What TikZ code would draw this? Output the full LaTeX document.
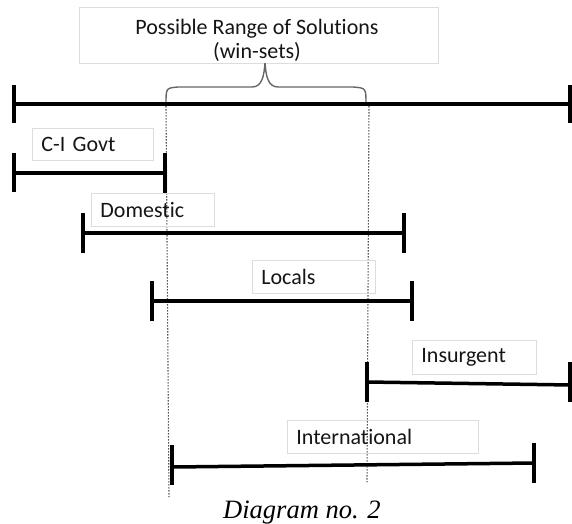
\documentclass[tikz,border=0pt]{standalone}
\usepackage{fontspec}
\setmainfont{Carlito}[Ligatures=NoCommon]
\newfontfamily\capfont{Liberation Serif}
\definecolor{boxgray}{HTML}{DDDDDD}
\definecolor{bracegray}{HTML}{666666}
\definecolor{dotgray}{HTML}{555555}
\definecolor{txt}{HTML}{151515}
\tikzset{
  bar/.style={line width=3.5pt, black},
  tick/.style={line width=3.5pt, black},
  lbl/.style={draw=boxgray, line width=0.8pt, rectangle, anchor=north west,
    inner xsep=9pt, inner ysep=0pt, align=left, text=txt,
    font=\fontsize{22}{26}\selectfont},
  guide/.style={dotgray, line width=1.1pt, dash pattern=on 1.5pt off 1.5pt},
  bracestyle/.style={bracegray, line width=1.4pt}
}
\begin{document}
\begin{tikzpicture}[x=1pt,y=-1pt]
\useasboundingbox (0,0) rectangle (572,523);
% title
\node[draw=boxgray, line width=0.8pt, anchor=north west, minimum width=359pt, minimum height=56pt,
  inner sep=0pt] (title) at (79,7) {};
\node[inner sep=0pt, align=center, text=txt, font=\fontsize{22}{24}\selectfont] (titletext) at (257,40)
  {Possible Range of Solutions\\(win-sets)};
% brace
\coordinate (bl) at (166,104);
\coordinate (br) at (366,104);
\coordinate (tip) at (265,63);
\draw[bracestyle] (bl) .. controls (166,88) .. (178,87) -- (252,87)
  .. controls (262,87) and (264,76) .. (tip)
  .. controls (266,76) and (268,87) .. (278,87) -- (353,87)
  .. controls (366,88) .. (br);
% guides
\coordinate (g1a) at (166,106);
\coordinate (g1b) at (169,497);
\coordinate (g2a) at (369,106);
\coordinate (g2b) at (367,482);
\draw[guide] (g1a) -- (g1b);
\draw[guide] (g2a) -- (g2b);
% main line
\coordinate (m1) at (14,104); \coordinate (m2) at (572,104);
\draw[bar] (m1) -- (m2);
\draw[tick] (14,85) -- (14,123);
\draw[tick] (570,85) -- (570,123);
% C-I Govt
\node[lbl, text width=103pt, minimum height=32pt] (cig) at (32,128) {C-I Govt};
\coordinate (c1) at (14,173); \coordinate (c2) at (165,173);
\draw[bar] (c1) -- (c2);
\draw[tick] (14,153) -- (14,192);
\draw[tick] (165,153) -- (165,193);
% Domestic
\node[lbl, text width=105pt, minimum height=33pt] (dom) at (91,193) {Domestic};
\coordinate (d1) at (83,233); \coordinate (d2) at (404,233);
\draw[bar] (d1) -- (d2);
\draw[tick] (83,213) -- (83,253);
\draw[tick] (404,213) -- (404,253);
% Locals
\node[lbl, text width=105pt, minimum height=33pt] (loc) at (252,260) {Locals};
\coordinate (l1) at (152,301); \coordinate (l2) at (412,301);
\draw[bar] (l1) -- (l2);
\draw[tick] (152,281) -- (152,321);
\draw[tick] (412,281) -- (412,321);
% Insurgent
\node[lbl, text width=106pt, minimum height=34pt] (ins) at (412,340) {Insurgent};
\coordinate (i1) at (367,382); \coordinate (i2) at (572,385);
\draw[bar] (i1) -- (i2);
\draw[tick] (367,362) -- (367,402);
\draw[tick] (570,362) -- (570,402);
% International
\node[lbl, text width=173pt, minimum height=33pt] (intl) at (287,420) {International};
\coordinate (n1) at (172,467); \coordinate (n2) at (534,463);
\draw[bar] (n1) -- (n2);
\draw[tick] (172,445) -- (172,485);
\draw[tick] (534,443) -- (534,483);
% caption
\node[anchor=base west, inner sep=0pt, font=\capfont\itshape\fontsize{26.5}{30}\selectfont] (cap) at (223,518) {Diagram no. 2};
\end{tikzpicture}
\end{document}
